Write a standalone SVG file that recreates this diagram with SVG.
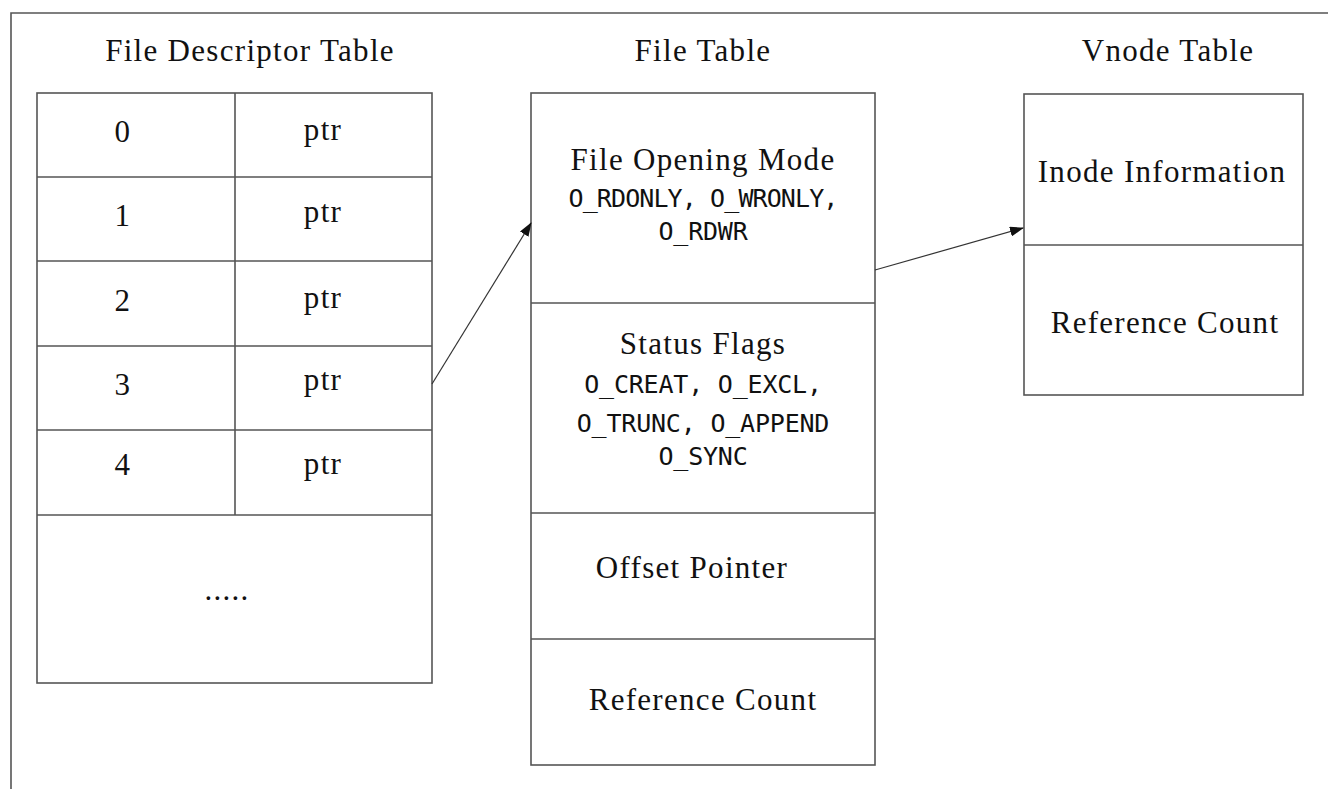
<svg xmlns="http://www.w3.org/2000/svg" width="1328" height="789" viewBox="0 0 1328 789">
<style>
.ln{fill:none;stroke:#555;stroke-width:1.6}
.t{font-family:"Liberation Serif","Times New Roman",serif;font-size:31px;fill:#111;text-anchor:middle;letter-spacing:1.3px}
.m{font-family:"DejaVu Sans Mono","Liberation Mono",monospace;font-size:25px;fill:#111;text-anchor:middle;letter-spacing:-0.2px}
.ar{fill:none;stroke:#333;stroke-width:1.2}
</style>
<defs>
<marker id="ah" markerWidth="14" markerHeight="10" refX="13" refY="5" orient="auto" markerUnits="userSpaceOnUse">
<path d="M0,0 L14,5 L0,10 Z" fill="#111"/>
</marker>
</defs>
<rect width="1328" height="789" fill="#fff"/>
<path class="ln" d="M11,789 L11,13 L1328,13" stroke-width="2"/>
<g id="fd-table">
<text class="t" x="250" y="61">File Descriptor Table</text>
<rect class="ln" x="37" y="93" width="395" height="590"/>
<path class="ln" d="M235,93 V515 M37,177 H432 M37,261 H432 M37,346 H432 M37,430 H432 M37,515 H432"/>
<text class="t" x="123" y="142">0</text><text class="t" x="323" y="140">ptr</text>
<text class="t" x="123" y="226">1</text><text class="t" x="323" y="222">ptr</text>
<text class="t" x="123" y="311">2</text><text class="t" x="323" y="308">ptr</text>
<text class="t" x="123" y="395">3</text><text class="t" x="323" y="390">ptr</text>
<text class="t" x="123" y="475">4</text><text class="t" x="323" y="474">ptr</text>
<text class="t" x="227" y="600">.....</text>
</g>
<g id="file-table">
<text class="t" x="703" y="61">File Table</text>
<rect class="ln" x="531" y="93" width="344" height="672"/>
<path class="ln" d="M531,303 H875 M531,513 H875 M531,639 H875"/>
<text class="t" x="703" y="170">File Opening Mode</text>
<text class="m" x="703" y="207" style="letter-spacing:-0.9px">O_RDONLY, O_WRONLY,</text>
<text class="m" x="703" y="240">O_RDWR</text>
<text class="t" x="703" y="354">Status Flags</text>
<text class="m" x="703" y="393">O_CREAT, O_EXCL,</text>
<text class="m" x="703" y="432">O_TRUNC, O_APPEND</text>
<text class="m" x="703" y="465">O_SYNC</text>
<text class="t" x="692" y="578">Offset Pointer</text>
<text class="t" x="703" y="710">Reference Count</text>
</g>
<g id="vnode-table">
<text class="t" x="1168" y="61">Vnode Table</text>
<rect class="ln" x="1024" y="94" width="279" height="301"/>
<path class="ln" d="M1024,245 H1303"/>
<text class="t" x="1162" y="182">Inode Information</text>
<text class="t" x="1165" y="333">Reference Count</text>
</g>
<g id="connectors">
<path class="ar" d="M432,384 L531,223" marker-end="url(#ah)"/>
<path class="ar" d="M875,270 L1023,228" marker-end="url(#ah)"/>
</g>
</svg>
